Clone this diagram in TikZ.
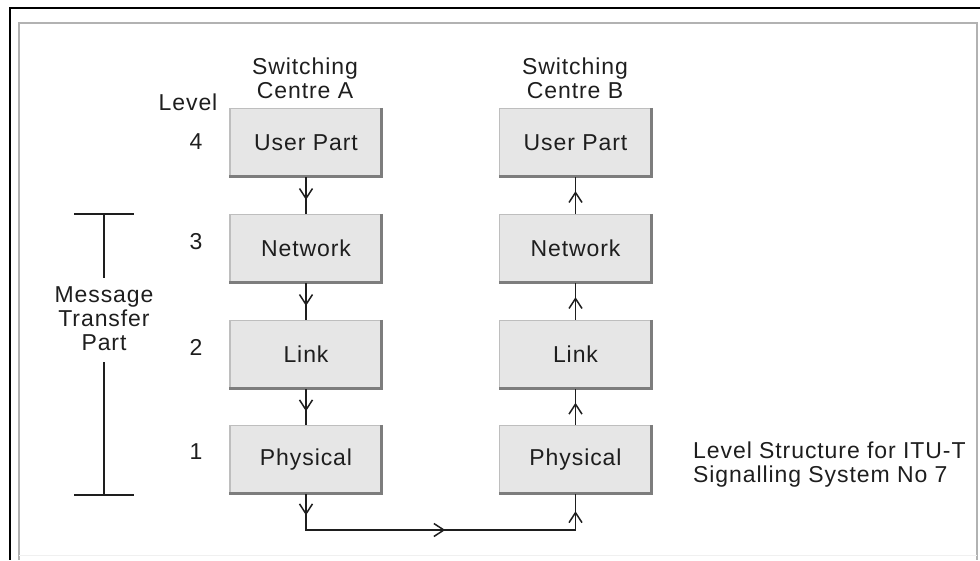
\documentclass[tikz,border=0pt]{standalone}
\usepackage{fontspec}
\setmainfont{Liberation Sans}[LetterSpace=4]
\usetikzlibrary{arrows.meta,decorations.markings}
\definecolor{ink}{RGB}{30,30,30}
\definecolor{boxfill}{RGB}{230,230,230}
\definecolor{boxedge}{RGB}{190,190,190}
\definecolor{boxshade}{RGB}{125,125,125}
\tikzset{
  layer/.style={minimum width=152pt, minimum height=68pt, fill=boxfill,
    draw=boxedge, line width=1.5pt, inner sep=0pt, text=ink,
    font=\fontsize{23}{24}\selectfont},
  lbl/.style={text=ink, font=\fontsize{23}{24}\selectfont, inner sep=0pt, align=center},
  flow/.style={draw=ink, line width=1.6pt},
  tipat/.style={postaction={decorate, decoration={markings,
    mark=at position #1 with {\arrow{Straight Barb[length=10pt,width=13pt,line width=1.5pt]}}}}},
}
\newcommand{\layershadow}[1]{%
  \draw[boxshade, line width=3pt] ([xshift=-1pt]#1.north east) -- ([xshift=-1pt,yshift=1pt]#1.south east) -- ([yshift=1pt]#1.south west);}
\begin{document}
\begin{tikzpicture}[x=1pt,y=-1pt]
\useasboundingbox (0,0) rectangle (980,560);
% frame
\draw[black, line width=2pt] (980,8) -- (10,8) -- (10,560);
\draw[gray!60, line width=2pt] (19,560) -- (19,23) -- (977,23) -- (977,560);
\draw[gray!12, line width=1pt] (19,555) -- (977,555);

% centre A stack
\node[layer] (a4) at (306,142.5) {User Part};
\node[layer] (a3) at (306,248.5) {Network};
\node[layer] (a2) at (306,354.5) {Link};
\node[layer] (a1) at (306,459.5) {Physical};
% centre B stack
\node[layer] (b4) at (575.5,142.5) {User Part};
\node[layer] (b3) at (575.5,248.5) {Network};
\node[layer] (b2) at (575.5,354.5) {Link};
\node[layer] (b1) at (575.5,459.5) {Physical};
\foreach \n in {a1,a2,a3,a4,b1,b2,b3,b4} {\layershadow{\n}}

% headings
\node[lbl] (ha) at (305,78) {Switching\\Centre A};
\node[lbl] (hb) at (575,78) {Switching\\Centre B};
\node[lbl] (lv) at (188,102) {Level};
\node[lbl] (n4) at (196,142) {4};
\node[lbl] (n3) at (196,242) {3};
\node[lbl] (n2) at (196,347) {2};
\node[lbl] (n1) at (196,452) {1};

% message transfer part bracket
\node[lbl] (mtp) at (104,319) {Message\\Transfer\\Part};
\coordinate (mt) at (104,214);
\coordinate (mb) at (104,495);
\draw[flow] (74,214) -- (134,214);
\draw[flow] (74,495) -- (134,495);
\draw[flow] (mt) -- (104,278);
\draw[flow] (104,362) -- (mb);

% caption
\node[lbl, align=left, anchor=west] (cap) at (693,465) {Level Structure for ITU-T\\Signalling System No 7};

% downward flow in A
\draw[flow, tipat=0.62] (a4.south) -- (a3.north);
\draw[flow, tipat=0.62] (a3.south) -- (a2.north);
\draw[flow, tipat=0.62] (a2.south) -- (a1.north);
% upward flow in B
\draw[flow, tipat=0.62] (b3.north) -- (b4.south);
\draw[flow, tipat=0.62] (b2.north) -- (b3.south);
\draw[flow, tipat=0.62] (b1.north) -- (b2.south);
% physical link between the centres
\coordinate (ca) at (306,530);
\coordinate (cb) at (575.5,530);
\draw[flow, line join=miter,
  postaction={decorate, decoration={markings,
    mark=at position 21pt with {\arrow{Straight Barb[length=10pt,width=13pt,line width=1.5pt]}},
    mark=at position 175pt with {\arrow{Straight Barb[length=10pt,width=13pt,line width=1.5pt]}},
    mark=at position 324pt with {\arrow{Straight Barb[length=10pt,width=13pt,line width=1.5pt]}}}}]
  (a1.south) -- (ca) -- (cb) -- (b1.south);
\end{tikzpicture}
\end{document}
